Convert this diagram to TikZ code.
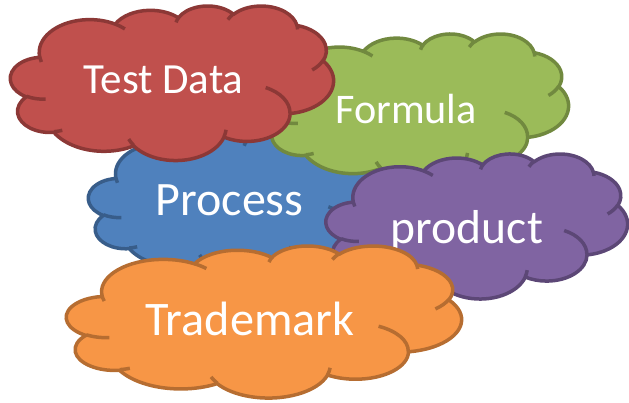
\documentclass[tikz,border=0pt]{standalone}
\usepackage{fontspec}
\setmainfont{Carlito}
\usepackage{tikz}
\definecolor{redFill}{HTML}{C0504D}\definecolor{redLine}{HTML}{8C3836}
\definecolor{greenFill}{HTML}{9BBB59}\definecolor{greenLine}{HTML}{71893F}
\definecolor{blueFill}{HTML}{4F81BD}\definecolor{blueLine}{HTML}{385D8A}
\definecolor{purpleFill}{HTML}{8064A2}\definecolor{purpleLine}{HTML}{5C4776}
\definecolor{orangeFill}{HTML}{F79646}\definecolor{orangeLine}{HTML}{B66D31}
\tikzset{
 cloud line/.style = {line width=3.5pt, line join=round},
 cloud text/.style = {text=white, anchor=base, inner sep=0pt}
}
\pgfkeys{
 /cloudShape/.is family, /cloudShape,
 fill/.estore in = \clFill,
 line/.estore in = \clLine,
 x/.estore in = \clX,
 y/.estore in = \clY,
 w/.estore in = \clW,
 h/.estore in = \clH,
 tx/.estore in = \clTX,
 ty/.estore in = \clTY,
 size/.estore in = \clSize,
 name/.estore in = \clName,
 default/.style =
  {fill=white, line=black, x=0, y=0, w=100, h=100, tx=50, ty=50, size=40, name=defaultcloud}
}
\newcommand{\cloudMove}[2]{%
    \pgfmathsetmacro\cpX{\clX+#1/43.2*\clW}%
    \pgfmathsetmacro\cpY{-(\clY+#2/43.2*\clH)}%
    \xdef\cloudPath{\cloudPath (\cpX pt,\cpY pt)}%
}
\newcommand{\cloudArc}[4]{%
    \pgfmathsetmacro\caA{atan2(#1*sin(#3),#2*cos(#3))}%
    \pgfmathsetmacro\caB{atan2(#1*sin(#3+#4),#2*cos(#3+#4))}%
    \pgfmathsetmacro\caD{\caB-\caA}%
    \pgfmathsetmacro\caD{(#4>0)*(\caD<0)*360-(#4<0)*(\caD>0)*360+\caD}%
    \pgfmathsetmacro\caS{-\caA}%
    \pgfmathsetmacro\caD{-\caD}%
    \pgfmathsetmacro\caRx{#1/43.2*\clW}%
    \pgfmathsetmacro\caRy{#2/43.2*\clH}%
    \xdef\cloudPath{\cloudPath arc[start angle=\caS, delta angle=\caD, x radius=\caRx pt, y radius=\caRy pt]}%
}
\newcommand{\cloudShape}[2][]{
    \pgfkeys{/cloudShape, default, #1}%
    % outline
    \gdef\cloudPath{}%
    \cloudMove{3.900}{14.370}%
    \cloudArc{6.753}{9.190}{-190.4875}{123.7805}%
    \cloudArc{5.333}{7.267}{-144.1024}{89.9452}%
    \cloudArc{4.365}{5.945}{-145.8079}{99.7230}%
    \cloudArc{4.857}{6.595}{-130.9861}{117.2417}%
    \cloudArc{5.333}{7.273}{-78.7089}{109.0269}%
    \cloudArc{6.775}{9.220}{-46.2673}{130.2690}%
    \cloudArc{5.785}{7.867}{0.6250}{114.0333}%
    \cloudArc{6.752}{9.215}{22.4516}{115.1726}%
    \cloudArc{7.720}{10.543}{66.2426}{75.7110}%
    \cloudArc{4.360}{5.918}{-274.9421}{146.7356}%
    \cloudArc{4.345}{5.945}{-246.8285}{152.5189}%
    \filldraw[fill=\clFill, draw=\clLine, cloud line] \cloudPath -- cycle;
    % inner arcs
    \gdef\cloudPath{}%
    \cloudMove{4.693}{26.177}\cloudArc{4.345}{5.945}{86.7420}{26.4295}%
    \cloudMove{6.928}{34.899}\cloudArc{4.360}{5.918}{73.6105}{11.4475}%
    \cloudMove{16.478}{39.090}\cloudArc{6.752}{9.215}{137.6242}{14.0811}%
    \cloudMove{28.827}{34.751}\cloudArc{6.752}{9.215}{6.4533}{15.9984}%
    \cloudMove{34.129}{22.954}\cloudArc{5.785}{7.867}{-70.2924}{70.9174}%
    \cloudMove{41.798}{15.354}\cloudArc{5.333}{7.273}{30.3180}{27.7515}%
    \cloudMove{38.324}{5.426}\cloudArc{4.857}{6.595}{-13.7443}{14.8589}%
    \cloudMove{29.078}{3.952}\cloudArc{4.857}{6.595}{-149.1815}{18.1954}%
    \cloudMove{22.141}{4.720}\cloudArc{4.365}{5.945}{-163.4943}{17.6864}%
    \cloudMove{14.000}{5.192}\cloudArc{6.753}{9.190}{-66.7070}{12.3194}%
    \cloudMove{4.127}{15.789}\cloudArc{6.753}{9.190}{157.6544}{11.8582}%
    \draw[draw=\clLine, cloud line] \cloudPath;
    \node[cloud text, font=\fontsize{\clSize}{\clSize}\selectfont] (\clName) at (\clTX pt, -\clTY pt) {#2};
}

\begin{document}
\begin{tikzpicture}
    \useasboundingbox (0,0) rectangle (629pt,-402pt);
    \cloudShape[name=process, fill=blueFill, line=blueLine, x=88.5, y=130, w=303.6, h=144.5, tx=229.5, ty=215, size=48]{Process}
    \cloudShape[name=formula, fill=greenFill, line=greenLine, x=265, y=33.5, w=303.5, h=148.5, tx=406, ty=123.3, size=42.2]{Formula}
    \cloudShape[name=testdata, fill=redFill, line=redLine, x=10.5, y=5.5, w=323, h=154.5, tx=163.5, ty=93.3, size=43]{Test Data}
    \cloudShape[name=product, fill=purpleFill, line=purpleLine, x=326, y=153.5, w=301.5, h=145, tx=467, ty=243, size=47.6]{product}
    \cloudShape[name=trademark, fill=orangeFill, line=orangeLine, x=66.5, y=245.5, w=395, h=152, tx=250, ty=335, size=48.2]{Trademark}
\end{tikzpicture}
\end{document}
